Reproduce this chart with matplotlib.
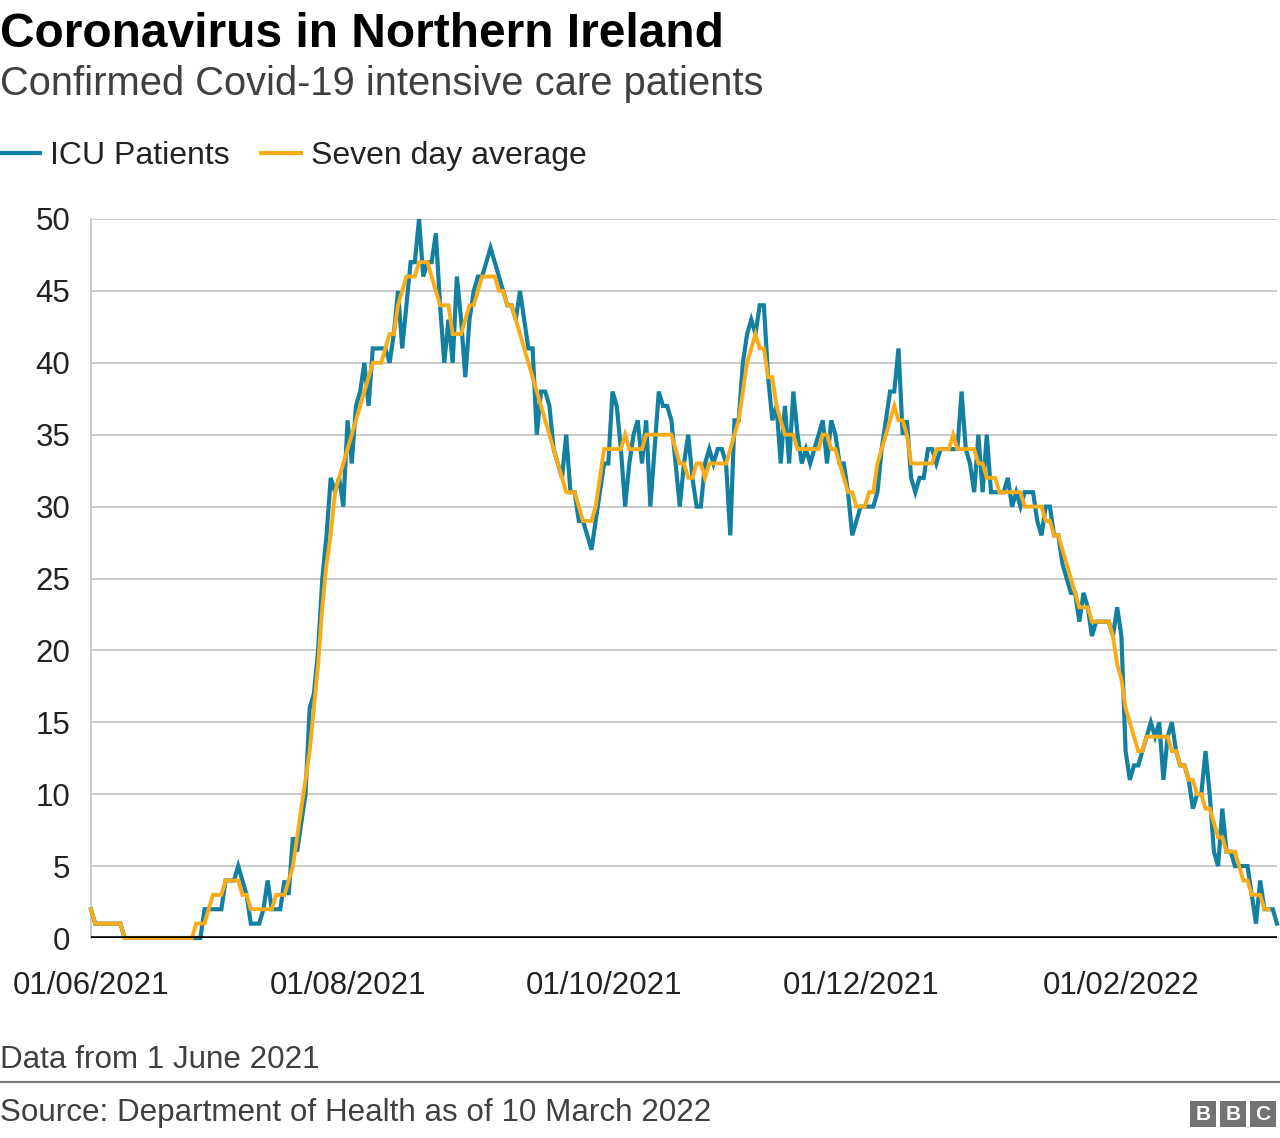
import matplotlib
matplotlib.use('Agg')
import matplotlib.pyplot as plt
import matplotlib.dates as mdates
from matplotlib.lines import Line2D
from matplotlib.patches import Rectangle
import pandas as pd

# daily ICU patients from 1 June 2021
start_date = '2021-06-01'
icu_patients = [
    2, 1, 1, 1, 1, 1, 1, 1, 0, 0,
    0, 0, 0, 0, 0, 0, 0, 0, 0, 0,
    0, 0, 0, 0, 0, 0, 0, 2, 2, 2,
    2, 2, 4, 4, 4, 5, 4, 3, 1, 1,
    1, 2, 4, 2, 2, 2, 4, 3, 7, 6,
    8, 10, 16, 17, 20, 25, 28, 32, 31, 32,
    30, 36, 33, 37, 38, 40, 37, 41, 41, 41,
    41, 40, 42, 45, 41, 44, 47, 47, 50, 46,
    47, 47, 49, 44, 40, 43, 40, 46, 43, 39,
    43, 45, 46, 46, 47, 48, 47, 46, 45, 44,
    44, 43, 45, 43, 41, 41, 35, 38, 38, 37,
    34, 33, 32, 35, 31, 31, 29, 29, 28, 27,
    29, 31, 33, 33, 38, 37, 34, 30, 33, 35,
    36, 33, 36, 30, 34, 38, 37, 37, 36, 33,
    30, 33, 35, 32, 30, 30, 33, 34, 33, 34,
    34, 33, 28, 36, 36, 40, 42, 43, 42, 44,
    44, 39, 36, 37, 33, 37, 33, 38, 35, 33,
    34, 33, 34, 35, 36, 33, 36, 35, 33, 33,
    31, 28, 29, 30, 30, 30, 30, 31, 34, 36,
    38, 38, 41, 35, 36, 32, 31, 32, 32, 34,
    34, 33, 34, 34, 34, 34, 34, 38, 34, 33,
    31, 35, 31, 35, 31, 31, 31, 31, 32, 30,
    31, 30, 31, 31, 31, 29, 28, 30, 30, 28,
    28, 26, 25, 24, 24, 22, 24, 23, 21, 22,
    22, 22, 22, 21, 23, 21, 13, 11, 12, 12,
    13, 14, 15, 14, 15, 11, 14, 15, 13, 12,
    12, 11, 9, 10, 10, 13, 10, 6, 5, 9,
    6, 6, 5, 5, 5, 5, 3, 1, 4, 2,
    2, 2, 1,
]

# seven day average as drawn (stops a couple of days before the last ICU value)
seven_day_avg = [
    2, 1, 1, 1, 1, 1, 1, 1, 0, 0,
    0, 0, 0, 0, 0, 0, 0, 0, 0, 0,
    0, 0, 0, 0, 0, 1, 1, 1, 2, 3,
    3, 3, 4, 4, 4, 4, 3, 3, 2, 2,
    2, 2, 2, 2, 3, 3, 3, 4, 5, 7,
    9, 11, 13, 16, 19, 23, 26, 28, 31, 32,
    33, 34, 35, 36, 37, 38, 39, 40, 40, 40,
    41, 42, 42, 44, 45, 46, 46, 46, 47, 47,
    47, 46, 45, 44, 44, 44, 42, 42, 42, 43,
    44, 44, 45, 46, 46, 46, 46, 45, 45, 44,
    44, 43, 42, 41, 40, 39, 38, 37, 36, 35,
    34, 33, 32, 31, 31, 31, 30, 29, 29, 29,
    30, 32, 34, 34, 34, 34, 34, 35, 34, 34,
    34, 34, 35, 35, 35, 35, 35, 35, 35, 34,
    33, 33, 32, 32, 33, 33, 32, 33, 33, 33,
    33, 33, 34, 35, 36, 38, 40, 41, 42, 41,
    41, 39, 39, 37, 36, 35, 35, 35, 34, 34,
    34, 34, 34, 34, 35, 35, 34, 34, 33, 32,
    31, 31, 30, 30, 30, 31, 31, 33, 34, 35,
    36, 37, 36, 36, 35, 33, 33, 33, 33, 33,
    33, 34, 34, 34, 34, 35, 34, 34, 34, 34,
    34, 33, 33, 32, 32, 32, 31, 31, 31, 31,
    31, 31, 30, 30, 30, 30, 30, 29, 29, 28,
    28, 27, 26, 25, 24, 23, 23, 23, 22, 22,
    22, 22, 22, 21, 19, 18, 16, 15, 14, 13,
    13, 14, 14, 14, 14, 14, 14, 13, 13, 12,
    12, 11, 11, 10, 10, 9, 9, 8, 7, 7,
    6, 6, 6, 5, 4, 4, 3, 3, 3, 2,
    2,
]

x_tick_dates = ['2021-06-01', '2021-08-01', '2021-10-01', '2021-12-01', '2022-02-01']
y_ticks = [0, 5, 10, 15, 20, 25, 30, 35, 40, 45, 50]

BLUE = '#1380A1'
ORANGE = '#FAAB18'
GRID = '#cbcbcb'
DARK = '#222222'

plt.rcParams['font.family'] = ['Liberation Sans', 'DejaVu Sans']

W, H = 1280, 1138
def fx(px):
    return px / W
def fy(py):
    return 1 - py / H

dates = pd.date_range(start_date, periods=len(icu_patients), freq='D')
avg_dates = dates[:len(seven_day_avg)]

fig = plt.figure(figsize=(W / 100, H / 100), dpi=100)
ax = fig.add_axes([fx(91), fy(938), fx(1277) - fx(91), fy(219) - fy(938)])

ax.plot(dates, icu_patients, color=BLUE, lw=3.0, zorder=3, solid_joinstyle='miter',
        clip_on=False)
ax.plot(avg_dates, seven_day_avg, color=ORANGE, lw=2.8, zorder=4, solid_joinstyle='miter',
        clip_on=False)
ax.axhline(0, color='black', lw=2.6, zorder=5)

ax.set_xlim(dates[0], dates[-1])
ax.set_ylim(0, 50)
ax.set_yticks(y_ticks)
ax.set_xticks(pd.to_datetime(x_tick_dates))
ax.xaxis.set_major_formatter(mdates.DateFormatter('%d/%m/%Y'))
ax.yaxis.grid(True, color=GRID, lw=1.4)
ax.set_axisbelow(True)
for s in ['top', 'right', 'bottom']:
    ax.spines[s].set_visible(False)
ax.spines['left'].set_color(GRID)
ax.spines['left'].set_linewidth(1.4)
ax.tick_params(axis='both', length=0, labelsize=22.5, colors=DARK)
ax.tick_params(axis='x', pad=24)
ax.tick_params(axis='y', pad=15)

# titles
fig.text(fx(0), fy(47), 'Coronavirus in Northern Ireland', fontsize=34.5,
         fontweight='bold', color='black', va='baseline', ha='left')
fig.text(fx(0), fy(95), 'Confirmed Covid-19 intensive care patients', fontsize=28.7,
         color='#404040', va='baseline', ha='left')

# legend
fig.lines.append(Line2D([fx(0), fx(40)], [fy(153), fy(153)], color=BLUE, lw=3.0,
                        transform=fig.transFigure))
fig.text(fx(50), fy(164), 'ICU Patients', fontsize=23, color=DARK, va='baseline')
fig.lines.append(Line2D([fx(261), fx(301)], [fy(153), fy(153)], color=ORANGE, lw=3.0,
                        transform=fig.transFigure))
fig.text(fx(311), fy(164), 'Seven day average', fontsize=23, color=DARK, va='baseline')

# footer
fig.text(fx(0), fy(1068), 'Data from 1 June 2021', fontsize=22.6, color='#404040',
         va='baseline')
fig.lines.append(Line2D([0, 1], [fy(1082), fy(1082)], color='#808080', lw=1.6,
                        transform=fig.transFigure))
fig.text(fx(0), fy(1121), 'Source: Department of Health as of 10 March 2022',
         fontsize=22.6, color='#404040', va='baseline')

# BBC blocks
for i, letter in enumerate('BBC'):
    x0 = 1190 + i * 30
    fig.patches.append(Rectangle((fx(x0), fy(1127)), fx(26), 26 / H,
                                 facecolor='#737373', edgecolor='none',
                                 transform=fig.transFigure))
    fig.text(fx(x0 + 13), fy(1114), letter, fontsize=15, fontweight='bold',
             color='white', ha='center', va='center')

fig.savefig('out.png', dpi=100)
